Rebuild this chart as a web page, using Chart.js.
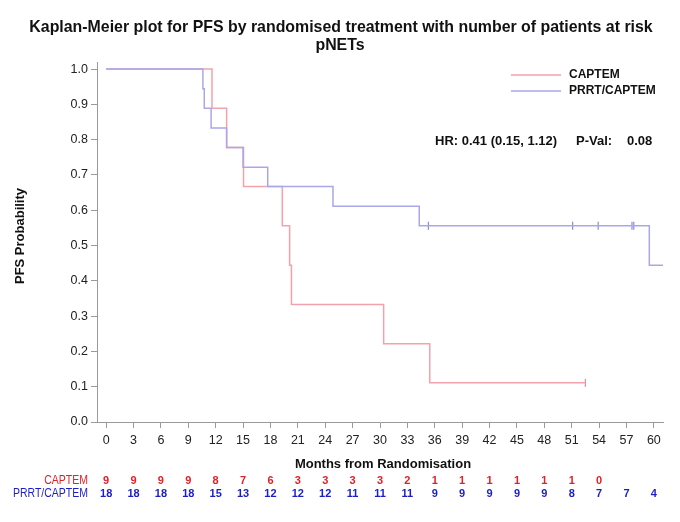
<!DOCTYPE html>
<html>
<head>
<meta charset="utf-8">
<script src="https://cdn.jsdelivr.net/npm/chart.js@4.4.1/dist/chart.umd.min.js"></script>
<style>
  html, body { margin: 0; padding: 0; background: #fff; }
</style>
</head>
<body>
<canvas id="kmChart" width="680" height="522"></canvas>
<script>
// Kaplan-Meier step points (months, PFS probability after the drop)
const captemTimes = [0, 11.6, 13.2, 15.05, 19.3, 20.1, 20.3, 30.4, 35.45, 52.5];
const captemSurv  = [1.0, 0.889, 0.778, 0.667, 0.556, 0.444, 0.333, 0.222, 0.111, 0.111];
const captemCensorTimes = [52.5];
const captemCensorSurv  = [0.111];

const prrtTimes = [0, 10.6, 10.75, 11.5, 13.2, 15.0, 17.7, 24.85, 34.3, 59.5, 61];
const prrtSurv  = [1.0, 0.944, 0.889, 0.833, 0.778, 0.722, 0.667, 0.611, 0.556, 0.444, 0.444];
const prrtCensorTimes = [35.3, 51.1, 53.9, 57.6, 57.8];
const prrtCensorSurv  = [0.556, 0.556, 0.556, 0.556, 0.556];

// axis ticks
const monthTicks = [0, 3, 6, 9, 12, 15, 18, 21, 24, 27, 30, 33, 36, 39, 42, 45, 48, 51, 54, 57, 60];
const probTicks = [0, 0.1, 0.2, 0.3, 0.4, 0.5, 0.6, 0.7, 0.8, 0.9, 1.0];

// number of patients at risk, one per month tick
const captemAtRisk = [9, 9, 9, 9, 8, 7, 6, 3, 3, 3, 3, 2, 1, 1, 1, 1, 1, 1, 0];
const prrtAtRisk = [18, 18, 18, 18, 15, 13, 12, 12, 12, 11, 11, 11, 9, 9, 9, 9, 9, 8, 7, 7, 4];

const redLine = '#f2a2ac';
const blueLine = '#a9a7e9';
const redText = '#e3202a';
const blueText = '#1c1cc8';
const fontFam = '"Liberation Sans", Arial, sans-serif';

function toPoints(xs, ys) {
    return xs.map((x, i) => ({ x: x, y: ys[i] }));
}

// narrow label: squeeze Liberation Sans horizontally, right aligned at x
function narrowText(ctx, text, x, y) {
    ctx.save();
    ctx.translate(x, y);
    ctx.scale(0.84, 1);
    ctx.textAlign = 'right';
    ctx.fillText(text, 0, 0);
    ctx.restore();
}

// titles, legend, HR text and the at-risk table
const kmText = {
    id: 'kmText',
    afterDraw(chart) {
        const ctx = chart.ctx;
        const xs = chart.scales.x;
        const area = chart.chartArea;
        ctx.save();
        ctx.fillStyle = '#111';
        ctx.textBaseline = 'middle';

        // main title
        ctx.textAlign = 'center';
        ctx.font = 'bold 15.9px ' + fontFam;
        ctx.fillText('Kaplan-Meier plot for PFS by randomised treatment with number of patients at risk', 341, 28);
        ctx.fillText('pNETs', 340, 46);

        // axis titles
        ctx.font = 'bold 13px ' + fontFam;
        ctx.fillText('Months from Randomisation', (area.left + area.right) / 2 + 3, 464);
        ctx.save();
        ctx.translate(20, 236);
        ctx.rotate(-Math.PI / 2);
        ctx.fillText('PFS Probability', 0, 0);
        ctx.restore();

        // legend
        ctx.lineWidth = 1.5;
        ctx.strokeStyle = redLine;
        ctx.beginPath(); ctx.moveTo(511, 75); ctx.lineTo(561, 75); ctx.stroke();
        ctx.strokeStyle = blueLine;
        ctx.beginPath(); ctx.moveTo(511, 91); ctx.lineTo(561, 91); ctx.stroke();
        ctx.textAlign = 'left';
        ctx.font = 'bold 12px ' + fontFam;
        ctx.fillText('CAPTEM', 569, 75);
        ctx.fillText('PRRT/CAPTEM', 569, 91);

        // hazard ratio
        ctx.font = 'bold 13px ' + fontFam;
        ctx.fillText('HR: 0.41 (0.15, 1.12)', 435, 141);
        ctx.fillText('P-Val:', 576, 141);
        ctx.fillText('0.08', 627, 141);

        // at-risk table
        ctx.font = '12.5px ' + fontFam;
        ctx.fillStyle = redText;
        narrowText(ctx, 'CAPTEM', 88, 481);
        ctx.fillStyle = blueText;
        narrowText(ctx, 'PRRT/CAPTEM', 88, 494);

        ctx.textAlign = 'center';
        ctx.font = 'bold 11px ' + fontFam;
        ctx.fillStyle = redText;
        captemAtRisk.forEach((n, i) => {
            ctx.fillText(String(n), xs.getPixelForValue(monthTicks[i]), 481);
        });
        ctx.fillStyle = blueText;
        prrtAtRisk.forEach((n, i) => {
            ctx.fillText(String(n), xs.getPixelForValue(monthTicks[i]), 494);
        });
        ctx.restore();
    }
};

new Chart(document.getElementById('kmChart'), {
    type: 'scatter',
    data: {
        datasets: [
            {
                label: 'PRRT/CAPTEM',
                data: toPoints(prrtTimes, prrtSurv),
                showLine: true,
                stepped: true,
                borderColor: blueLine,
                borderWidth: 1.5,
                pointRadius: 0
            },
            {
                label: 'CAPTEM',
                data: toPoints(captemTimes, captemSurv),
                showLine: true,
                stepped: true,
                borderColor: redLine,
                borderWidth: 1.5,
                pointRadius: 0
            },
            {
                label: 'PRRT/CAPTEM censored',
                data: toPoints(prrtCensorTimes, prrtCensorSurv),
                pointStyle: 'line',
                rotation: 90,
                pointRadius: 4,
                borderColor: '#8a88de',
                borderWidth: 1.2
            },
            {
                label: 'CAPTEM censored',
                data: toPoints(captemCensorTimes, captemCensorSurv),
                pointStyle: 'line',
                rotation: 90,
                pointRadius: 4,
                borderColor: '#ee8c96',
                borderWidth: 1.2
            }
        ]
    },
    options: {
        responsive: false,
        animation: false,
        layout: { padding: { top: 62, right: 17, left: 0, bottom: 0 } },
        plugins: {
            legend: { display: false },
            tooltip: { enabled: false },
            title: { display: false }
        },
        scales: {
            x: {
                type: 'linear',
                min: -1,
                max: 61,
                afterBuildTicks: s => { s.ticks = monthTicks.map(v => ({ value: v })); },
                afterFit: s => { s.height = 100; },
                ticks: {
                    color: '#222',
                    font: { size: 12.5, family: fontFam },
                    padding: 5,
                    maxRotation: 0,
                    autoSkip: false
                },
                grid: { drawOnChartArea: false, drawTicks: true, tickLength: 6, color: '#9a9a9a' },
                border: { color: '#9a9a9a' }
            },
            y: {
                min: 0,
                max: 1.02,
                afterBuildTicks: s => { s.ticks = probTicks.map(v => ({ value: v })); },
                afterFit: s => { s.width = 97; },
                ticks: {
                    color: '#222',
                    font: { size: 12.5, family: fontFam },
                    padding: 3,
                    callback: v => Number(v).toFixed(1)
                },
                grid: { drawOnChartArea: false, drawTicks: true, tickLength: 6, color: '#9a9a9a' },
                border: { color: '#9a9a9a' }
            }
        }
    },
    plugins: [kmText]
});
</script>
</body>
</html>
